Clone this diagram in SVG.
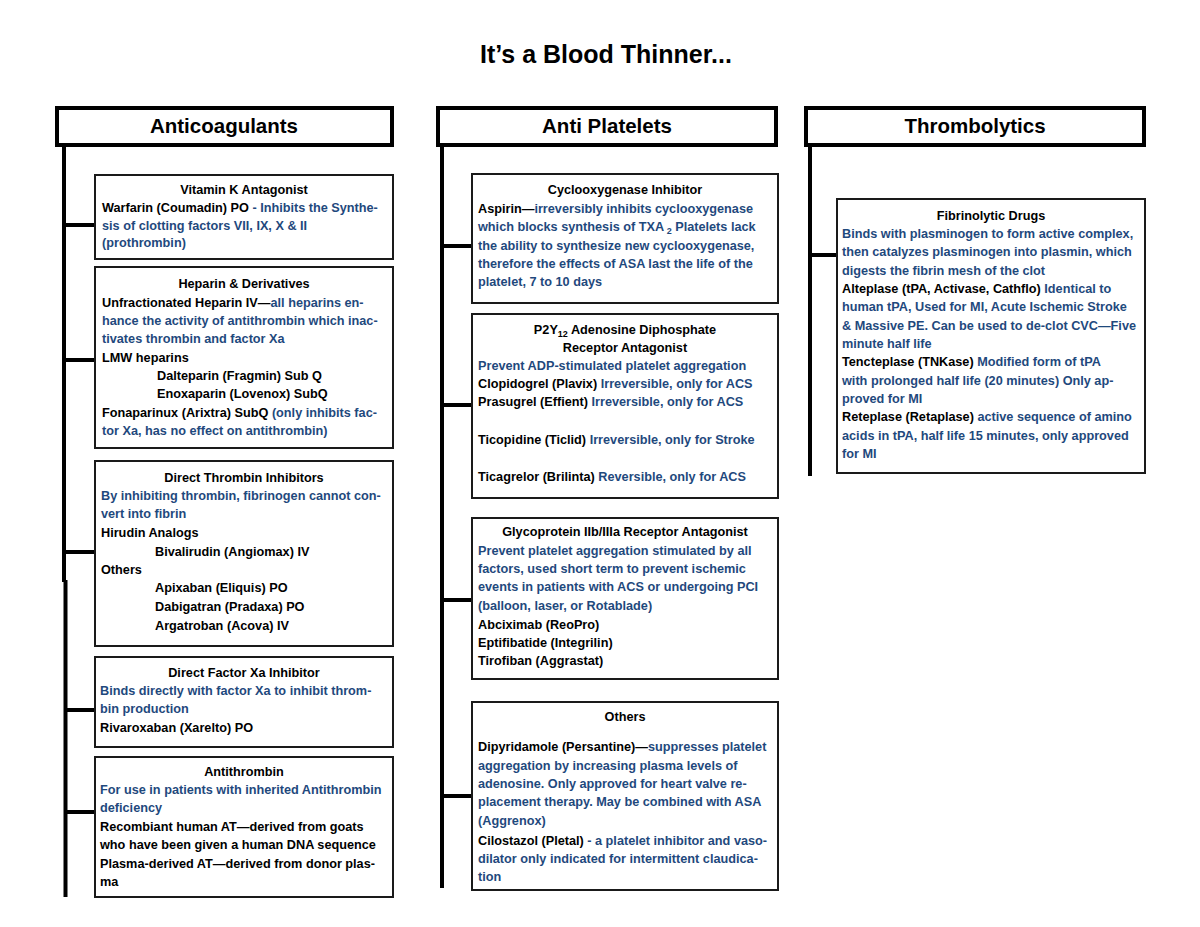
<svg xmlns="http://www.w3.org/2000/svg" width="1200" height="927" viewBox="0 0 1200 927">
<style>
text{font-family:"Liberation Sans",Arial,sans-serif;font-weight:bold;fill:#000}
.t{font-size:12.7px}
.c{text-anchor:middle}
.b{fill:#1F497D}
.hd{font-size:20.5px;text-anchor:middle}
.hbox{fill:#fff;stroke:#000;stroke-width:4}
.box{fill:#fff;stroke:#1a1a1a;stroke-width:2}
.ln{stroke:#000;stroke-width:4;fill:none}
.sub{font-size:9px}
</style>
<rect width="1200" height="927" fill="#fff"/>
<text x="606" y="63" style="font-size:25px;text-anchor:middle">It’s a Blood Thinner...</text>

<g id="connectors">
<line class="ln" x1="64" y1="146" x2="64" y2="582"/>
<line class="ln" x1="65.5" y1="580" x2="65.5" y2="897"/>
<line class="ln" x1="64" y1="225" x2="95" y2="225"/>
<line class="ln" x1="64" y1="360" x2="95" y2="360"/>
<line class="ln" x1="64" y1="552" x2="95" y2="552"/>
<line class="ln" x1="65.5" y1="710" x2="95" y2="710"/>
<line class="ln" x1="65.5" y1="812" x2="95" y2="812"/>
<line class="ln" x1="442" y1="146" x2="442" y2="888"/>
<line class="ln" x1="442" y1="246" x2="472" y2="246"/>
<line class="ln" x1="442" y1="405" x2="472" y2="405"/>
<line class="ln" x1="442" y1="600" x2="472" y2="600"/>
<line class="ln" x1="442" y1="796" x2="472" y2="796"/>
<line class="ln" x1="810" y1="146" x2="810" y2="476"/>
<line class="ln" x1="810" y1="255" x2="837" y2="255"/>
</g>

<g id="anticoagulants">
<rect class="hbox" x="57" y="108" width="335" height="37"/>
<text class="hd" x="224" y="133">Anticoagulants</text>
</g>
<g id="antiplatelets">
<rect class="hbox" x="438" y="108" width="338" height="37"/>
<text class="hd" x="607" y="133">Anti Platelets</text>
</g>
<g id="thrombolytics">
<rect class="hbox" x="806" y="108" width="338" height="37"/>
<text class="hd" x="975" y="133">Thrombolytics</text>
</g>

<g id="vitaminK">
<rect class="box" x="95" y="175" width="298" height="84"/>
<text class="t c" x="244" y="194">Vitamin K Antagonist</text>
<text class="t" x="102" y="212">Warfarin (Coumadin) PO <tspan class="b">- Inhibits the Synthe-</tspan></text>
<text class="t b" x="102" y="229.5">sis of clotting factors VII, IX, X &amp; II</text>
<text class="t b" x="102" y="247">(prothrombin)</text>
</g>

<g id="heparin">
<rect class="box" x="95" y="267" width="298" height="181"/>
<text class="t c" x="244" y="288">Heparin &amp; Derivatives</text>
<text class="t" x="102" y="306.5">Unfractionated Heparin IV—<tspan class="b">all heparins en-</tspan></text>
<text class="t b" x="102" y="325">hance the activity of antithrombin which inac-</text>
<text class="t b" x="102" y="343">tivates thrombin and factor Xa</text>
<text class="t" x="102" y="361.5">LMW heparins</text>
<text class="t" x="157" y="380">Dalteparin (Fragmin) Sub Q</text>
<text class="t" x="157" y="398">Enoxaparin (Lovenox) SubQ</text>
<text class="t" x="102" y="416.5">Fonaparinux  (Arixtra) SubQ <tspan class="b">(only inhibits fac-</tspan></text>
<text class="t b" x="102" y="435">tor Xa, has no effect on antithrombin)</text>
</g>

<g id="directThrombin">
<rect class="box" x="95" y="461" width="298" height="185"/>
<text class="t c" x="244" y="482">Direct Thrombin Inhibitors</text>
<text class="t b" x="101" y="499.5">By inhibiting thrombin, fibrinogen cannot con-</text>
<text class="t b" x="101" y="518">vert into fibrin</text>
<text class="t" x="101" y="537">Hirudin Analogs</text>
<text class="t" x="155" y="555.5">Bivalirudin (Angiomax) IV</text>
<text class="t" x="101" y="573.5">Others</text>
<text class="t" x="155" y="592">Apixaban (Eliquis) PO</text>
<text class="t" x="155" y="610.5">Dabigatran (Pradaxa) PO</text>
<text class="t" x="155" y="629.5">Argatroban (Acova) IV</text>
</g>

<g id="factorXa">
<rect class="box" x="95" y="657" width="298" height="90"/>
<text class="t c" x="244" y="677">Direct Factor Xa Inhibitor</text>
<text class="t b" x="100" y="694.5">Binds directly with factor Xa to inhibit throm-</text>
<text class="t b" x="100" y="713">bin production</text>
<text class="t" x="100" y="731.5">Rivaroxaban (Xarelto) PO</text>
</g>

<g id="antithrombin">
<rect class="box" x="95" y="757" width="298" height="140"/>
<text class="t c" x="244" y="776">Antithrombin</text>
<text class="t b" x="100" y="794">For use in patients with inherited Antithrombin</text>
<text class="t b" x="100" y="812.4">deficiency</text>
<text class="t" x="100" y="830.8">Recombiant human AT—derived from goats</text>
<text class="t" x="100" y="849.2">who have been given a human DNA sequence</text>
<text class="t" x="100" y="867.6">Plasma-derived AT—derived from donor plas-</text>
<text class="t" x="100" y="886">ma</text>
</g>

<g id="cox">
<rect class="box" x="472" y="174" width="306" height="129"/>
<text class="t c" x="625" y="193.5">Cyclooxygenase Inhibitor</text>
<text class="t" x="478" y="213">Aspirin—<tspan class="b">irreversibly inhibits cyclooxygenase</tspan></text>
<text class="t b" x="478" y="231">which blocks synthesis of TXA<tspan class="sub" dy="3"> 2</tspan><tspan dy="-3"> Platelets lack</tspan></text>
<text class="t b" x="478" y="249.5">the ability to synthesize new cyclooxygenase,</text>
<text class="t b" x="478" y="268">therefore the effects of ASA last the life of the</text>
<text class="t b" x="478" y="286">platelet, 7 to 10 days</text>
</g>

<g id="p2y12">
<rect class="box" x="472" y="314" width="306" height="184"/>
<text class="t c" x="625" y="333.5">P2Y<tspan class="sub" dy="3">12</tspan><tspan dy="-3"> Adenosine Diphosphate</tspan></text>
<text class="t c" x="625" y="352">Receptor Antagonist</text>
<text class="t b" x="478" y="369.5">Prevent ADP-stimulated platelet aggregation</text>
<text class="t" x="478" y="388">Clopidogrel (Plavix) <tspan class="b">Irreversible, only for ACS</tspan></text>
<text class="t" x="478" y="406">Prasugrel (Effient) <tspan class="b">Irreversible, only  for ACS</tspan></text>
<text class="t" x="478" y="443.5">Ticopidine (Ticlid) <tspan class="b">Irreversible, only for Stroke</tspan></text>
<text class="t" x="478" y="480.5">Ticagrelor (Brilinta) <tspan class="b">Reversible, only for ACS</tspan></text>
</g>

<g id="glycoprotein">
<rect class="box" x="472" y="518" width="306" height="161"/>
<text class="t c" x="625" y="536">Glycoprotein IIb/IIIa Receptor Antagonist</text>
<text class="t b" x="478" y="554.5">Prevent platelet aggregation stimulated by all</text>
<text class="t b" x="478" y="573">factors, used short term to prevent ischemic</text>
<text class="t b" x="478" y="591">events in patients with ACS or undergoing PCI</text>
<text class="t b" x="478" y="609.5">(balloon, laser, or Rotablade)</text>
<text class="t" x="478" y="628.5">Abciximab (ReoPro)</text>
<text class="t" x="478" y="647">Eptifibatide (Integrilin)</text>
<text class="t" x="478" y="665">Tirofiban (Aggrastat)</text>
</g>

<g id="others">
<rect class="box" x="472" y="702" width="306" height="188"/>
<text class="t c" x="625" y="720.5">Others</text>
<text class="t" x="478" y="751">Dipyridamole (Persantine)—<tspan class="b">suppresses platelet</tspan></text>
<text class="t b" x="478" y="769.5">aggregation by increasing plasma levels of</text>
<text class="t b" x="478" y="788">adenosine. Only approved for heart valve re-</text>
<text class="t b" x="478" y="806">placement therapy. May be combined with ASA</text>
<text class="t b" x="478" y="824.5">(Aggrenox)</text>
<text class="t" x="478" y="844.5">Cilostazol (Pletal) <tspan class="b">- a platelet inhibitor and vaso-</tspan></text>
<text class="t b" x="478" y="863">dilator only indicated for intermittent claudica-</text>
<text class="t b" x="478" y="880.5">tion</text>
</g>

<g id="fibrinolytic">
<rect class="box" x="837" y="199" width="308" height="274"/>
<text class="t c" x="991" y="219.5">Fibrinolytic Drugs</text>
<text class="t b" x="842" y="238">Binds with plasminogen to form active complex,</text>
<text class="t b" x="842" y="256">then catalyzes plasminogen into plasmin, which</text>
<text class="t b" x="842" y="274.5">digests the fibrin mesh of the clot</text>
<text class="t" x="842" y="292.5">Alteplase (tPA, Activase, Cathflo) <tspan class="b">Identical to</tspan></text>
<text class="t b" x="842" y="311">human tPA, Used for MI, Acute Ischemic Stroke</text>
<text class="t b" x="842" y="329.5">&amp; Massive PE. Can be used to de-clot CVC—Five</text>
<text class="t b" x="842" y="347.5">minute half life</text>
<text class="t" x="842" y="366">Tencteplase (TNKase) <tspan class="b">Modified form of tPA</tspan></text>
<text class="t b" x="842" y="384.5">with prolonged half life (20 minutes) Only ap-</text>
<text class="t b" x="842" y="403">proved for MI</text>
<text class="t" x="842" y="421">Reteplase (Retaplase) <tspan class="b">active sequence of amino</tspan></text>
<text class="t b" x="842" y="439.5">acids in tPA, half life 15 minutes, only approved</text>
<text class="t b" x="842" y="458">for MI</text>
</g>
</svg>
